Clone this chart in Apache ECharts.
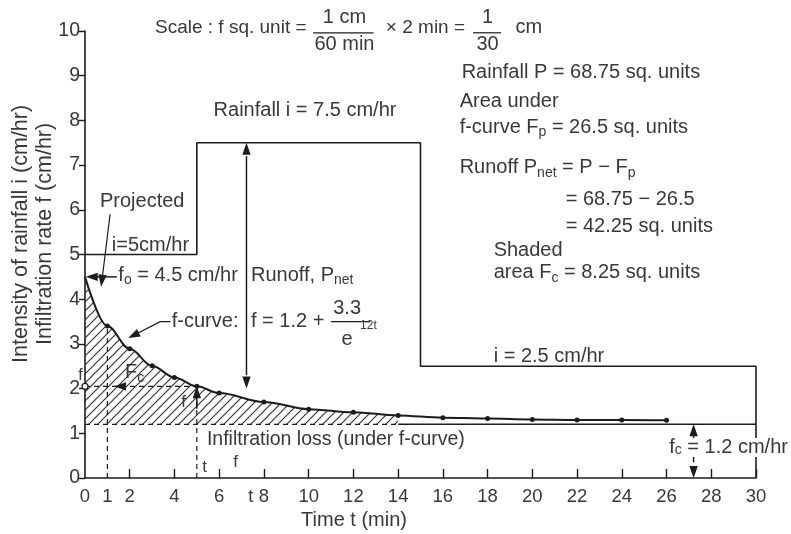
<!DOCTYPE html>
<html>
<head>
<meta charset="utf-8">
<script src="https://cdn.jsdelivr.net/npm/echarts@6/dist/echarts.min.js"></script>
<style>
  html, body { margin: 0; padding: 0; background: #fff; }
  #chart { width: 791px; height: 534px; }
</style>
</head>
<body>
<div id="chart"></div>
<script>
// Rainfall hyetograph: intensity (cm/hr) over time blocks (min)
const rainStart = [0, 5, 15];
const rainEnd = [5, 15, 30];
const rainRate = [5, 7.5, 2.5];

// Infiltration capacity curve f (cm/hr) against time t (min)
const curveT = [0, 1, 2, 3, 4, 5, 6, 8, 10, 12, 14, 16, 18, 20, 22, 24, 26];
const curveF = [4.5, 3.40, 2.89, 2.51, 2.25, 2.05, 1.90, 1.70, 1.54, 1.47, 1.40, 1.35, 1.33, 1.31, 1.30, 1.30, 1.29];

// Ultimate infiltration rate f_c (cm/hr)
const fcRate = 1.2;
// Shaded F_c area runs from t = 0 up to this time (min)
const shadeEnd = 14;

// Axis ticks and labels
const xLabelValues = [0, 1, 2, 4, 6, 8, 10, 12, 14, 16, 18, 20, 22, 24, 26, 28, 30];
const xTickValues = [2, 4, 6, 8, 10, 12, 14, 16, 18, 20, 22, 24, 26, 28, 30];
const yMin = 0, yMax = 10, yStep = 1;
const xMin = 0, xMax = 30;

const INK = '#1c1c1c';
const TEXT = '#383838';
const FONT = '"Liberation Sans", Arial, Helvetica, sans-serif';
const FS = 20;

// Diagonal hatch tile for the shaded area
function hatchTile() {
  const s = 9;
  const c = document.createElement('canvas');
  c.width = s; c.height = s;
  const g = c.getContext('2d');
  g.strokeStyle = '#333';
  g.lineWidth = 1.15;
  g.beginPath();
  g.moveTo(-1, 1); g.lineTo(1, -1);
  g.moveTo(0, s); g.lineTo(s, 0);
  g.moveTo(s - 1, s + 1); g.lineTo(s + 1, s - 1);
  g.stroke();
  return c;
}

const rainSteps = [];
rainStart.forEach((t0, k) => {
  rainSteps.push([t0, rainRate[k]]);
  rainSteps.push([rainEnd[k], rainRate[k]]);
});
rainSteps.push([rainEnd[rainEnd.length - 1], 0]);

const curvePts = curveT.map((t, k) => [t, curveF[k]]);
const shadePts = curvePts.filter(p => p[0] <= shadeEnd);
const curveAt = t => curveF[curveT.indexOf(t)];

const RICH = {
  s: { fontSize: 14, fontFamily: FONT, fill: TEXT, verticalAlign: 'bottom' }
};

function renderNotes(params, api) {
  const P = (t, f) => api.coord([t, f]);
  const kids = [];
  const text = (t, f, str, extra) => {
    const p = P(t, f);
    kids.push({
      type: 'text', x: p[0], y: p[1], z2: 5,
      style: Object.assign({
        text: str, fill: TEXT, fontSize: FS, fontFamily: FONT,
        align: 'left', verticalAlign: 'middle', lineHeight: 25, rich: RICH
      }, extra || {})
    });
  };
  const line = (pts, extra) => {
    kids.push({
      type: 'polyline',
      shape: { points: pts.map(p => P(p[0], p[1])) },
      style: Object.assign({ stroke: INK, lineWidth: 1.5, fill: null }, extra || {})
    });
  };
  const head = (tip, from) => {
    const a = P(tip[0], tip[1]), b = P(from[0], from[1]);
    const dx = a[0] - b[0], dy = a[1] - b[1];
    const d = Math.hypot(dx, dy) || 1;
    const ux = dx / d, uy = dy / d, len = 12, half = 4.2;
    const bx = a[0] - ux * len, by = a[1] - uy * len;
    kids.push({
      type: 'polygon',
      shape: { points: [a, [bx - uy * half, by + ux * half], [bx + uy * half, by - ux * half]] },
      style: { fill: INK }
    });
  };
  const dash = { lineDash: [5, 4], lineWidth: 1.2 };

  // Scale note with stacked fractions
  text(3.13, 10.07, 'Scale : f sq. unit =', { fontSize: 19 });
  text(11.6, 10.31, '1 cm', { align: 'center' });
  line([[10.2, 9.96], [12.9, 9.96]], { lineWidth: 1.2 });
  text(11.6, 9.69, '60 min', { align: 'center' });
  text(13.45, 10.07, '× 2 min =', { fontSize: 19 });
  text(18.0, 10.31, '1', { align: 'center' });
  line([[17.35, 9.96], [18.6, 9.96]], { lineWidth: 1.2 });
  text(18.0, 9.69, '30', { align: 'center' });
  text(19.25, 10.07, 'cm');

  // Area summary
  text(16.84, 9.08, 'Rainfall P = 68.75 sq. units');
  text(16.75, 8.43, 'Area under');
  text(16.75, 7.85, 'f-curve F{s|p} = 26.5 sq. units');
  text(16.75, 6.94, 'Runoff P{s|net} = P − F{s|p}');
  text(21.49, 6.24, '= 68.75 − 26.5');
  text(21.49, 5.62, '= 42.25 sq. units');
  text(18.27, 5.10, 'Shaded');
  text(18.27, 4.59, 'area F{s|c} = 8.25 sq. units');

  // Rainfall labels
  text(rainStart[1] + 0.75, 8.23, 'Rainfall i = ' + rainRate[1] + ' cm/hr');
  text(0.67, 6.18, 'Projected');
  text(1.2, 5.21, 'i=' + rainRate[0] + 'cm/hr');
  text(rainStart[2] + 3.27, 2.72, 'i = ' + rainRate[2] + ' cm/hr');
  line([[1.12, 5.9], [0.9, 5.0], [0.74, 4.35]], { lineWidth: 1.2 });
  head([0.72, 4.28], [0.8, 4.6]);

  // Initial infiltration rate
  text(1.49, 4.54, 'f{s|o} = ' + curveF[0] + ' cm/hr');
  line([[1.42, curveF[0]], [0.3, curveF[0]]]);
  head([0.03, curveF[0]], [1.0, curveF[0]]);
  text(7.42, 4.54, 'Runoff, P{s|net}');

  // Runoff double arrow between f-curve and rainfall
  line([[7.22, 2.3], [7.22, 7.2]]);
  head([7.22, rainRate[1]], [7.22, 6.0]);
  head([7.22, 2.0], [7.22, 3.0]);

  // f-curve equation
  text(3.88, 3.50, 'f-curve:');
  line([[3.82, 3.50], [3.36, 3.50], [2.2, 3.20]], { lineWidth: 1.3 });
  head([1.93, 3.13], [2.6, 3.30]);
  text(7.42, 3.50, 'f = 1.2 +');
  text(11.72, 3.80, '3.3', { align: 'center' });
  line([[11.0, 3.50], [12.75, 3.50]], { lineWidth: 1.2 });
  text(11.72, 3.09, 'e', { align: 'center' });
  text(12.3, 3.40, '12t', { fontSize: 12 });

  // Construction lines for F_c
  line([[1, 0], [1, curveAt(1)]], dash);
  line([[5, 0], [5, curveAt(5)]], dash);
  line([[0, curveAt(5)], [5, curveAt(5)]], dash);
  head([1.3, curveAt(5)], [2.5, curveAt(5)]);
  line([[5, 1.55], [5, 1.85]]);
  head([5, curveAt(5)], [5, 1.5]);
  const o = P(0, curveAt(5));
  kids.push({ type: 'circle', shape: { cx: o[0], cy: o[1], r: 3 }, style: { fill: '#fff', stroke: INK, lineWidth: 1.2 } });
  text(-0.3, 2.30, 'f', { fontSize: 16 });
  text(1.79, 2.35, 'F{s|c}');
  text(4.30, 1.70, 'f', { fontSize: 17 });

  text(5.45, 0.85, 'Infiltration loss (under f-curve)', { fontSize: 19.5 });
  text(5.24, 0.25, 't', { fontSize: 17 });
  text(6.63, 0.36, 'f', { fontSize: 17 });
  text(7.3, -0.43, 't', { fontSize: 18 });

  // f_c double arrow
  line([[27.21, 0.35], [27.21, fcRate - 0.2]]);
  head([27.21, fcRate], [27.21, 0.5]);
  head([27.21, 0], [27.21, 0.8]);
  text(26.12, 0.68, 'f{s|c} = ' + fcRate + ' cm/hr', { backgroundColor: '#fff', padding: [0, 1, 0, 0], lineHeight: 19 });

  // Axis titles
  text(9.66, -0.94, 'Time t (min)');
  const yt = P(-2.33, 5.46);
  kids.push({
    type: 'text', x: yt[0], y: yt[1], rotation: Math.PI / 2,
    style: {
      text: 'Intensity of rainfall i (cm/hr)\nInfiltration rate f (cm/hr)',
      fill: TEXT, fontSize: 21.5, fontFamily: FONT, align: 'center',
      verticalAlign: 'middle', lineHeight: 24
    }
  });

  return { type: 'group', children: kids };
}

const chart = echarts.init(document.getElementById('chart'), null, { renderer: 'canvas' });

chart.setOption({
  animation: false,
  backgroundColor: '#fff',
  grid: { left: 85, right: 35, top: 31, bottom: 56, containLabel: false, outerBoundsMode: 'none' },
  xAxis: {
    type: 'value', min: xMin, max: xMax,
    axisLine: { show: true, onZero: false, lineStyle: { color: INK, width: 1.6 } },
    axisTick: { show: true, inside: true, length: 9, customValues: xTickValues, lineStyle: { color: INK, width: 1.4 } },
    axisLabel: { customValues: xLabelValues, color: TEXT, fontSize: 18.5, fontFamily: FONT, margin: 9 },
    splitLine: { show: false }
  },
  yAxis: {
    type: 'value', min: yMin, max: yMax, interval: yStep,
    axisLine: { show: true, onZero: false, lineStyle: { color: INK, width: 1.6 } },
    axisTick: { show: true, inside: false, length: 6, lineStyle: { color: INK, width: 1.4 } },
    axisLabel: { color: TEXT, fontSize: 19.5, fontFamily: FONT, margin: 5 },
    splitLine: { show: false }
  },
  series: [
    {
      name: 'F_c shading', type: 'line', data: shadePts,
      smooth: 0.35, smoothMonotone: 'x', showSymbol: false, symbol: 'none', silent: true,
      lineStyle: { width: 0 },
      areaStyle: { origin: fcRate, color: { image: hatchTile(), repeat: 'repeat' }, opacity: 1 },
      z: 1
    },
    {
      name: 'f_c dashed', type: 'line', data: [[xMin, fcRate], [shadeEnd, fcRate]],
      symbol: 'none', silent: true, lineStyle: { color: INK, width: 1.3, type: [5, 4] }, z: 2
    },
    {
      name: 'f_c', type: 'line', data: [[shadeEnd, fcRate], [xMax, fcRate]],
      symbol: 'none', silent: true, lineStyle: { color: INK, width: 1.5 }, z: 2
    },
    {
      name: 'Rainfall', type: 'line', data: rainSteps,
      symbol: 'none', silent: true, lineStyle: { color: INK, width: 1.6 }, z: 3
    },
    {
      name: 'f-curve', type: 'line',
      data: curvePts.map((p, k) => k === 0 ? { value: p, symbol: 'none' } : p),
      smooth: 0.35, smoothMonotone: 'x', symbol: 'circle', symbolSize: 5, showSymbol: true, silent: true,
      itemStyle: { color: INK },
      lineStyle: { color: INK, width: 2 }, z: 4
    },
    {
      name: 'notes', type: 'custom', coordinateSystem: 'cartesian2d',
      data: [[0, 0]], renderItem: renderNotes, clip: false, silent: true, z: 10
    }
  ]
});
</script>
</body>
</html>
